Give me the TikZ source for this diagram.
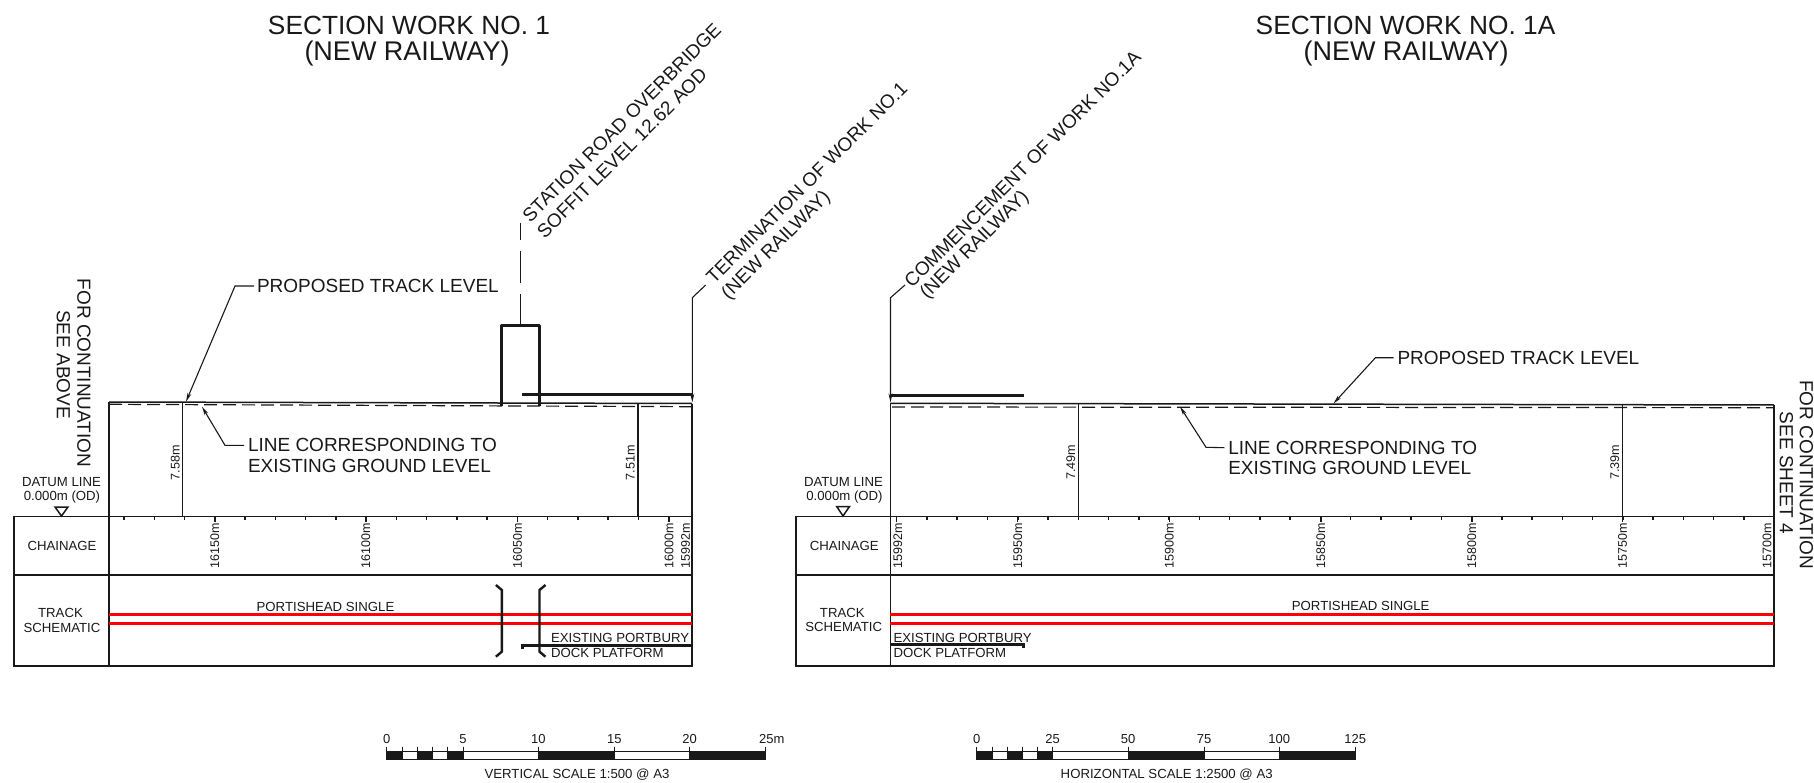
\documentclass[tikz,border=0pt]{standalone}
\usepackage{fontspec}
\setmainfont{Liberation Sans}
\usetikzlibrary{arrows.meta}
\definecolor{ink}{gray}{0.1}
\tikzset{
  every node/.style={inner sep=0pt,outer sep=0pt,text=ink},
  thin line/.style={draw=ink,line width=1.5pt},
  thick line/.style={draw=ink,line width=3pt},
  bracket/.style={draw=ink,line width=2.4pt},
  rail/.style={draw=red,line width=3pt},
  ground/.style={draw=ink,line width=1.2pt,dash pattern=on 13pt off 6pt},
  leader/.style={draw=ink,line width=1.1pt,-{Stealth[length=9pt,width=4pt]}},
  plain leader/.style={draw=ink,line width=1.1pt},
  title/.style={font=\fontsize{26.3}{26.3}\selectfont},
  subtitle/.style={font=\fontsize{27}{27}\selectfont},
  big/.style={font=\fontsize{19}{19}\selectfont},
  mid/.style={font=\fontsize{13.2}{13.2}\selectfont},
  small/.style={font=\fontsize{12.6}{12.6}\selectfont},
  chain/.style={font=\fontsize{12.5}{12.5}\selectfont,rotate=90},
  bar/.style={draw=ink,line width=1pt},
}
\begin{document}
\begin{tikzpicture}[x=1pt,y=-1pt]
\useasboundingbox (0,0) rectangle (1814,783);
% ---------- titles
\node[title] (t1) at (409,25) {SECTION WORK NO. 1};
\node[subtitle] (t1b) at (407,54) {(NEW RAILWAY)};
\node[title] (t2) at (1405.5,25) {SECTION WORK NO. 1A};
\node[subtitle] (t2b) at (1406,54) {(NEW RAILWAY)};
% ---------- left panel table
\draw[thin line] (14,516.7) rectangle (692,666);
\draw[thin line] (14,575) -- (692,575);
\draw[thin line] (109,402) -- (109,666);
\draw[thin line] (692,403.5) -- (692,666);
\draw[thin line] (109,402) -- (692,403.5);
\draw[ground] (109,404.3) -- (692,406.7);
\foreach \i in {0,...,18}{\draw[thin line] ({124+30.25*\i},516.7) -- ++(0,3.5);}
\foreach \x in {214.9,365.9,517.5,669}{\draw[thin line] (\x,516.7) -- ++(0,5.5);}
% red rails left
\draw[rail] (109,614.7) -- (692,614.7);
\draw[rail] (109,623.7) -- (692,623.7);
% bridge
\coordinate (brA) at (501.8,405.7);
\coordinate (brB) at (501.8,326);
\coordinate (brC) at (539.5,326);
\coordinate (brD) at (539.5,405.7);
\draw[thick line,line join=round] (brA) -- (brB) -- (brC) -- (brD);
\draw[bracket] (495.9,585) -- (501.8,590) -- (501.8,651.7) -- (495.9,656.7);
\draw[bracket] (545.5,585) -- (539.5,590) -- (539.5,651.7) -- (545.5,656.7);
\draw[thick line] (522,394.7) -- (692,394.7);
\draw[thick line] (522,649) -- (522,645) -- (692,645);
% left labels
\node[big,rotate=-90] (fc1) at (84,373) {FOR CONTINUATION};
\node[big,rotate=-90] (sa1) at (63.4,364.5) {SEE ABOVE};
\node[mid] (dl1) at (61.5,482) {DATUM LINE};
\node[mid] (do1) at (62,497) {0.000m (OD)};
\draw[thin line] (55,507) -- (68,507) -- (61.5,516) -- cycle;
\node[mid] (ch1) at (62,546) {CHAINAGE};
\node[mid] (tr1) at (60.5,612.7) {TRACK};
\node[mid] (sc1) at (62,627.7) {SCHEMATIC};
\node[mid] (ps1) at (325.5,606.7) {PORTISHEAD SINGLE};
\node[mid,anchor=west] (ep1) at (551,638.3) {EXISTING PORTBURY};
\node[mid,anchor=west] (dp1) at (551,653.3) {DOCK PLATFORM};
% chainage left
\foreach \x/\t in {214.9/16150m,365.9/16100m,517.5/16050m,669/16000m,685.5/15992m}{\node[chain] (c\t) at (\x,546) {\t};}
% dimensions left
\coordinate (d1t) at (182.7,402.5);
\coordinate (d1b) at (182.7,516.7);
\draw[thin line] (d1t) -- (d1b);
\node[small,rotate=90] (d1) at (175.4,462.7) {7.58m};
\coordinate (d2t) at (638.2,404);
\coordinate (d2b) at (638.2,516.7);
\draw[thin line] (d2t) -- (d2b);
\node[small,rotate=90] (d2) at (630.4,462.7) {7.51m};
% leaders left
\node[big,anchor=west] (pt1) at (257,286) {PROPOSED TRACK LEVEL};
\coordinate (pt1k) at (235,286);
\coordinate (pt1e) at (186,401.7);
\draw[leader] (pt1.west) ++(-3,0) -- (pt1k) -- (pt1e);
\node[big,anchor=west] (lc1) at (248,445.3) {LINE CORRESPONDING TO};
\node[big,anchor=west] (eg1) at (248,466) {EXISTING GROUND LEVEL};
\coordinate (lc1k) at (225,445.3);
\coordinate (lc1e) at (202,406.7);
\draw[leader] (lc1.west) ++(-4,0) -- (lc1k) -- (lc1e);
% rotated labels
\node[big,rotate=45] (sr) at (621.7,122.5) {STATION ROAD OVERBRIDGE};
\node[big,rotate=45] (sf) at (622,153) {SOFFIT LEVEL  12.62 AOD};
\coordinate (cl) at (520.7,222.7);
\coordinate (cltop) at (520.7,326);
\draw[plain leader,dash pattern=on 32pt off 11pt,dash phase=0pt] (cltop) -- (cl);
\node[big,rotate=45] (tw) at (806.7,182.7) {TERMINATION OF WORK NO.1};
\node[big,rotate=45] (nr1) at (776.5,245.6) {(NEW RAILWAY)};
\coordinate (tk1) at (705.7,285);
\coordinate (tk2) at (692.3,297.7);
\coordinate (tk3) at (692.3,402.5);
\draw[leader] (tk1) -- (tk2) -- (tk3);
\node[big,rotate=45] (cw) at (1022.5,169) {COMMENCEMENT OF WORK NO.1A};
\node[big,rotate=45] (nr2) at (975,245.5) {(NEW RAILWAY)};
\coordinate (ck1) at (905,285);
\coordinate (ck2) at (890.5,297.7);
\coordinate (ck3) at (890.5,402.5);
\draw[leader] (ck1) -- (ck2) -- (ck3);
% ---------- right panel table
\draw[thin line] (796,516.7) rectangle (1774,666);
\draw[thin line] (796,575) -- (1774,575);
\draw[thin line] (890.3,403.3) -- (890.3,666);
\draw[thin line] (1774,405) -- (1774,666);
\draw[thin line] (890.3,403.3) -- (1774,405);
\draw[ground] (892,407) -- (1774,407.7);
\foreach \i in {0,...,28}{\draw[thin line] ({896.7+30.26*\i},516.7) -- ++(0,3.5);}
\foreach \x in {896.7,1017.7,1169.3,1320.9,1471.8,1622.6}{\draw[thin line] (\x,516.7) -- ++(0,5.5);}
\draw[rail] (890.3,614.7) -- (1774,614.7);
\draw[rail] (890.3,623.7) -- (1774,623.7);
\draw[thick line] (890.3,395) -- (1023.5,395);
\draw[thick line] (890.3,644.7) -- (1023.5,644.7) -- (1023.5,648);
% right labels
\node[big,rotate=-90] (fc2) at (1806.5,474.5) {FOR CONTINUATION};
\node[big,rotate=-90] (ss2) at (1786.5,473) {SEE SHEET 4};
\node[mid] (dl2) at (843.5,482.3) {DATUM LINE};
\node[mid] (do2) at (844.5,497) {0.000m (OD)};
\draw[thin line] (836.7,506.5) -- (849.5,506.5) -- (843,516) -- cycle;
\node[mid] (ch2) at (844.3,545.5) {CHAINAGE};
\node[mid] (tr2) at (842.3,612.7) {TRACK};
\node[mid] (sc2) at (843.7,627.3) {SCHEMATIC};
\node[mid] (ps2) at (1360.7,606.3) {PORTISHEAD SINGLE};
\node[mid,anchor=west] (ep2) at (893.5,637.7) {EXISTING PORTBURY};
\node[mid,anchor=west] (dp2) at (893.5,652.7) {DOCK PLATFORM};
\foreach \x/\t in {897.7/15992m,1017.7/15950m,1169.3/15900m,1320.9/15850m,1471.8/15800m,1622.6/15750m,1767/15700m}{\node[chain] (c\t) at (\x,545.5) {\t};}
\coordinate (d3t) at (1078.3,404);
\coordinate (d3b) at (1078.3,516.7);
\draw[thin line] (d3t) -- (d3b);
\node[small,rotate=90] (d3) at (1070.7,462.3) {7.49m};
\coordinate (d4t) at (1622.6,405);
\coordinate (d4b) at (1622.6,516.7);
\draw[thin line] (d4t) -- (d4b);
\node[small,rotate=90] (d4) at (1614.8,462.3) {7.39m};
\node[big,anchor=west] (pt2) at (1397.5,357.7) {PROPOSED TRACK LEVEL};
\coordinate (pt2k) at (1375.4,357.7);
\coordinate (pt2e) at (1333.5,403.5);
\draw[leader] (pt2.west) ++(-4,0) -- (pt2k) -- (pt2e);
\node[big,anchor=west] (lc2) at (1228.3,447.7) {LINE CORRESPONDING TO};
\node[big,anchor=west] (eg2) at (1228.3,468.3) {EXISTING GROUND LEVEL};
\coordinate (lc2k) at (1206,447.3);
\coordinate (lc2e) at (1180,406.7);
\draw[leader] (lc2.west) ++(-4,0) -- (lc2k) -- (lc2e);
% ---------- scale bars
\foreach \xa/\xb/\f in {386.7/402.3/ink,402.3/417.3/white,417.3/432.7/ink,432.7/447.3/white,447.3/463/ink,463/538.3/white,538.3/614.3/ink,614.3/689.7/white,689.7/765.3/ink,
 976.7/992.3/ink,992.3/1007/white,1007/1022.7/ink,1022.7/1037.3/white,1037.3/1052.7/ink,1052.7/1128/white,1128/1204/ink,1204/1279.3/white,1279.3/1355.3/ink}{
  \draw[bar,fill=\f] (\xa,751) rectangle (\xb,759);
  \draw[bar] (\xa,746.7) -- (\xa,751);
  \draw[bar] (\xb,746.7) -- (\xb,751);
}
\foreach \x/\t/\n in {386.7/0/a,463/5/b,538.3/10/c,614.3/15/d,689.7/20/e,771.7/25m/f,
 976.7/0/g,1052.7/25/h,1128/50/i,1204/75/j,1279.3/100/k,1355.3/125/l}{\node[font=\fontsize{13}{13}\selectfont] (s\n) at (\x,738.7) {\t};}
\node[mid] (vs) at (577,775) {VERTICAL SCALE 1:500 @ A3};
\node[mid] (hs) at (1166.7,775) {HORIZONTAL SCALE 1:2500 @ A3};
\end{tikzpicture}
\end{document}
